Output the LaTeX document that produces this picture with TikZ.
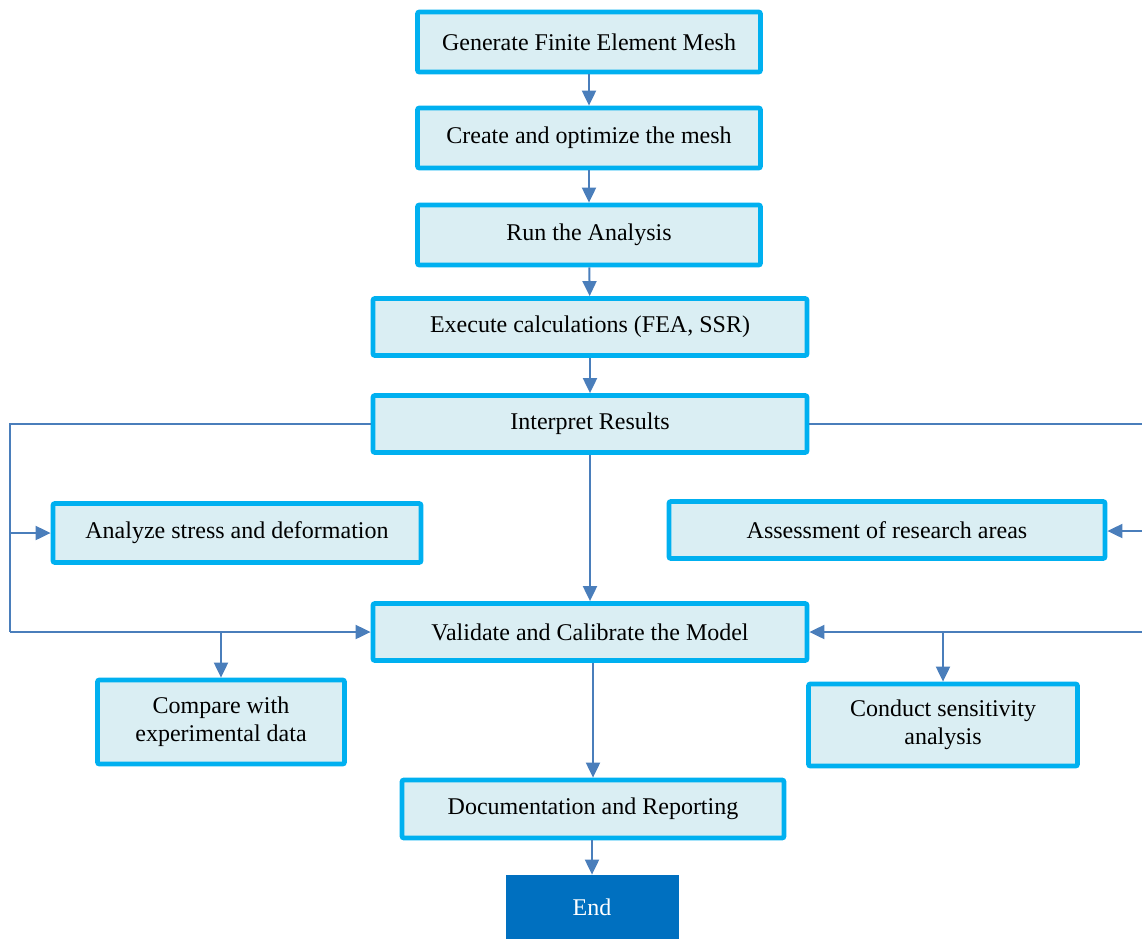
\documentclass[tikz,border=0pt]{standalone}
\usepackage{fontspec}
\setmainfont{Liberation Serif}
\usetikzlibrary{arrows.meta}
\definecolor{boxfill}{HTML}{DAEEF3}
\definecolor{boxline}{HTML}{00B0F0}
\definecolor{linkcol}{HTML}{4A7EBB}
\definecolor{endfill}{HTML}{0070C0}
\begin{document}
\begin{tikzpicture}[x=0.5pt,y=-0.5pt,
  stage/.style={draw=boxline,fill=boxfill,line width=2.4pt,rounded corners=1pt,
    inner sep=0pt,align=center,font=\fontsize{12}{14}\selectfont,text=black},
  finish/.style={fill=endfill,inner sep=0pt,font=\fontsize{12}{14}\selectfont,text=white},
  link/.style={draw=linkcol,line width=1pt,-{Triangle[length=7.5pt,width=7pt]}},
  plain/.style={draw=linkcol,line width=1pt}]
\useasboundingbox (0,0) rectangle (1142,939);

% main column
\node[stage,minimum width=171.5pt,minimum height=30pt] (gen) at (589,42) {\raisebox{-1.5pt}{Generate Finite Element Mesh}};
\node[stage,minimum width=171.5pt,minimum height=30pt] (mesh) at (589,138) {\raisebox{-1.5pt}{Create and optimize the mesh}};
\node[stage,minimum width=171.5pt,minimum height=30pt] (run) at (589,235) {\raisebox{-1.5pt}{Run the Analysis}};
\node[stage,minimum width=217pt,minimum height=28.5pt] (calc) at (590,327) {\raisebox{-1.5pt}{Execute calculations (FEA, SSR)}};
\node[stage,minimum width=217pt,minimum height=28.5pt] (interp) at (590,424) {\raisebox{-1.5pt}{Interpret Results}};
\node[stage,minimum width=184pt,minimum height=29.5pt] (stress) at (237,533) {\raisebox{-1.5pt}{Analyze stress and deformation}};
\node[stage,minimum width=218pt,minimum height=28.5pt] (assess) at (887,530) {\raisebox{-1.5pt}{Assessment of research areas}};
\node[stage,minimum width=217pt,minimum height=28.5pt] (valid) at (590,632) {\raisebox{-1.5pt}{Validate and Calibrate the Model}};
\node[stage,minimum width=123.5pt,minimum height=42pt] (comp) at (221,722) {Compare with\\experimental data};
\node[stage,minimum width=134.5pt,minimum height=41pt] (sens) at (943,725) {Conduct sensitivity\\analysis};
\node[stage,minimum width=191pt,minimum height=29pt] (doc) at (593,809) {\raisebox{-1.5pt}{Documentation and Reporting}};
\node[finish,minimum width=86.5pt,minimum height=32pt] (end) at (592,907) {\raisebox{-1.5pt}{End}};

% sequential flow
\draw[link] (gen) -- (mesh);
\draw[link] (mesh) -- (run);
\draw[link] (run) -- (calc);
\draw[link] (calc) -- (interp);
\draw[link] (interp) -- (valid);
\draw[link] (valid.south -| doc.north) -- (doc);
\draw[link] (doc.south -| end.north) -- (end);

% left feedback bus
\coordinate (lt) at (10,424);
\coordinate (lb) at (10,632);
\draw[plain] (interp.west) -- (lt) -- (lb);
\draw[link] (lb) -- (valid.west);
\draw[link] (10,533) coordinate (lm) -- (stress.west);
\draw[link] (comp.north |- lb) -- (comp.north);

% right feedback bus
\coordinate (rt) at (1142,424);
\coordinate (rb) at (1142,632);
\coordinate (rm) at (1142,531);
\draw[plain] (interp.east) -- (rt);
\draw[link] (rb) -- (valid.east);
\draw[link] (rm) -- (assess.east |- rm);
\draw[link] (sens.north |- rb) -- (sens.north);
\end{tikzpicture}
\end{document}
